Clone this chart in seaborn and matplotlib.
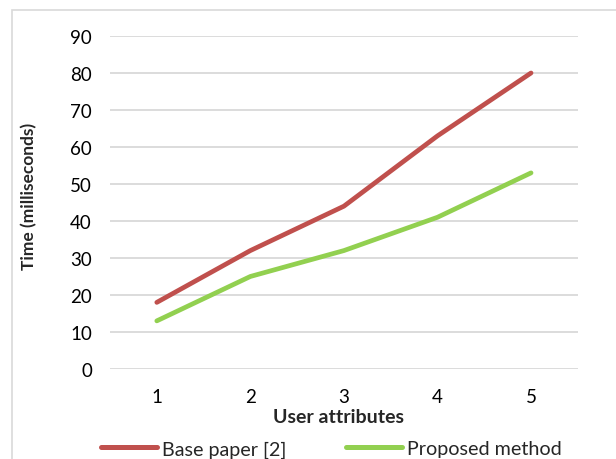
import pandas as pd
import matplotlib
matplotlib.use("Agg")
import matplotlib.pyplot as plt
import seaborn as sns

# data
attributes = [1, 2, 3, 4, 5]
base_paper = [18, 32, 44, 63, 80]
proposed = [13, 25, 32, 41, 53]
series_names = ["Base paper [2]", "Proposed method"]
colors = ["#C0504D", "#92D050"]

df = pd.DataFrame({
    "User attributes": attributes * 2,
    "Time": base_paper + proposed,
    "Series": [series_names[0]] * 5 + [series_names[1]] * 5,
})

sns.set_theme(style="white")
plt.rcParams["font.family"] = ["Lato", "DejaVu Sans"]

fig = plt.figure(figsize=(6.16, 4.6), dpi=100)
ax = fig.add_axes([0.1786, 0.1957, 0.938 - 0.1786, 0.9196 - 0.1957])

sns.lineplot(data=df, x="User attributes", y="Time", hue="Series",
             palette=colors, linewidth=3.4, ax=ax, legend=False,
             solid_capstyle="round")

ax.set_xlim(0.5, 5.5)
ax.set_ylim(0, 90)
ax.set_yticks(range(0, 91, 10))
ax.set_xticks(attributes)
ax.yaxis.grid(True, color="#D9D9D9", linewidth=1.3)
ax.set_axisbelow(True)
for s in ax.spines.values():
    s.set_visible(False)
ax.tick_params(axis="both", length=0, labelsize=13.5, colors="black")
ax.tick_params(axis="y", pad=13)
ax.tick_params(axis="x", pad=14)

ax.set_xlabel("User attributes", fontsize=14, fontweight="bold")
ax.xaxis.set_label_coords(0.489, -0.117)
ax.set_ylabel("Time (milliseconds)", fontsize=12.5, fontweight="bold")
ax.yaxis.set_label_coords(-0.155, 0.52)

handles = [plt.Line2D([], [], color=c, linewidth=3.6, solid_capstyle="round") for c in colors]
fig.legend(handles, series_names, loc="center", bbox_to_anchor=(0.538, 0.022),
           ncol=2, frameon=False, fontsize=14.2, handlelength=2.84,
           handletextpad=0.25, columnspacing=3.05)

# light frame around the chart area
fig.patches.append(plt.Rectangle((12 / 616, -0.01), 1.0, 1 - 11 / 460 + 0.01,
                                 transform=fig.transFigure, fill=False,
                                 edgecolor="#D9D9D9", linewidth=1.2))

fig.savefig("out.png", dpi=100)
